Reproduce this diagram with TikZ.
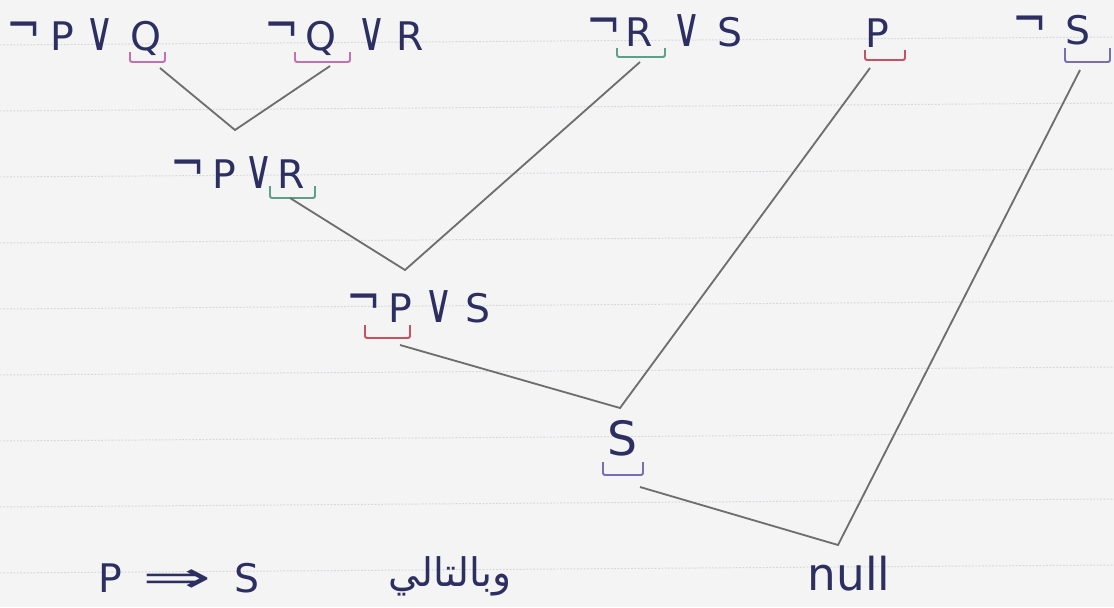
\documentclass[tikz,border=0pt]{standalone}
\usepackage{fontspec}
\TeXXeTstate=1
\newfontfamily\hwfont{DejaVu Sans}
\newfontfamily\arabicfont[Script=Arabic]{DejaVu Sans}
\definecolor{paper}{HTML}{F3F4F3}
\definecolor{rulecol}{HTML}{D5D7DC}
\definecolor{ink}{HTML}{2D2F62}
\definecolor{lnk}{HTML}{6E6E6E}
\definecolor{pinkb}{HTML}{C96FAE}
\definecolor{greenb}{HTML}{5F9F8A}
\definecolor{redb}{HTML}{C85262}
\definecolor{purpleb}{HTML}{7A6CB5}
\newdimen\pxu \pxu=0.025cm
\newcommand\hw{\hwfont\fontsize{28}{32}\selectfont}
\newcommand\bx[2]{\makebox[#1\pxu][c]{#2}}
\newcommand\negsym{\raisebox{0.16em}{\scalebox{1.05}[1.3]{¬}}}
\newcommand\orsym{\scalebox{1.0}[1.4]{∨}}
\newcommand\brkt[5]{\draw[brk,#5] (#1,#3) -- (#1,#4) -- (#2,#4) -- (#2,#3);}
\tikzset{
  txt/.style={font=\hw, text=ink, inner sep=0pt, anchor=base west},
  link/.style={draw=lnk, line width=1.3pt, line join=miter},
  brk/.style={line width=1.4pt, rounded corners=1.5pt},
  rule/.style={draw=rulecol, line width=0.7pt, dash pattern=on 1.2pt off 1.2pt},
}
\begin{document}
\begin{tikzpicture}[x=0.025cm,y=-0.025cm]
\useasboundingbox (0,0) rectangle (1114,607);
\fill[paper] (0,0) rectangle (1114,607);
\foreach \k in {0,...,8}{
  \draw[rule] (0,45+66*\k) -- (1114,37+66*\k);
}
% clauses
\node[txt] (c1) at (5,50) {\bx{38}{\negsym}\bx{38}{P}\bx{38}{\orsym}\bx{54}{Q}};
\node[txt] (c2) at (270,50) {\bx{24}{\negsym}\bx{54}{Q}\bx{48}{\orsym}\bx{28}{R}};
\node[txt] (c3) at (592,46) {\bx{24}{\negsym}\bx{46}{R}\bx{50}{\orsym}\bx{36}{S}};
\node[txt, anchor=base] (c4) at (877,47) {P};
\node[txt] (c5) at (1010,44) {\bx{40}{\negsym}\bx{56}{S}};
\node[txt] (r1) at (172,188) {\bx{32}{\negsym}\bx{40}{P}\bx{30}{\orsym}\bx{34}{R}};
\node[txt] (r2) at (348,322) {\bx{32}{\negsym}\bx{40}{P}\bx{38}{\orsym}\bx{40}{S}};
\node[txt, anchor=base] (r3) at (622,455) {\scalebox{1.2}{S}};
\node[txt, anchor=base] (r4) at (849,590) {\scalebox{1.15}{null}};
\node[txt] (concl) at (95,592) {\bx{30}{P}\bx{104}{\scalebox{2.1}[1.1]{⇒}}\bx{36}{S}};
\node[font=\arabicfont\fontsize{28}{32}\selectfont, text=ink, inner sep=0pt, anchor=base] (ar) at (450,586) {\beginR وبالتالي\endR};
% brackets
\brkt{130}{165}{52}{62}{pinkb}
\brkt{295}{350}{52}{62}{pinkb}
\brkt{617}{665}{48}{57}{greenb}
\brkt{865}{905}{50}{60}{redb}
\brkt{1065}{1110}{48}{62}{purpleb}
\brkt{270}{315}{186}{198}{greenb}
\brkt{365}{410}{325}{338}{redb}
\brkt{603}{643}{462}{475}{purpleb}
% connector ends
\coordinate (a1) at (160,68);
\coordinate (a2) at (330,66);
\coordinate (j1) at (235,130);
\coordinate (b1) at (290,198);
\coordinate (b2) at (640,62);
\coordinate (j2) at (405,270);
\coordinate (d1) at (400,345);
\coordinate (d2) at (870,68);
\coordinate (j3) at (620,408);
\coordinate (e1) at (640,487);
\coordinate (e2) at (1080,70);
\coordinate (j4) at (838,545);
\draw[link] (a1) -- (j1) -- (a2);
\draw[link] (b1) -- (j2) -- (b2);
\draw[link] (d1) -- (j3) -- (d2);
\draw[link] (e1) -- (j4) -- (e2);
\end{tikzpicture}
\end{document}
